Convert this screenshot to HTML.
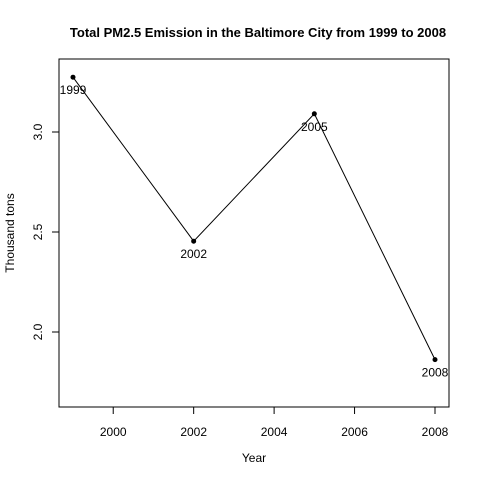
<!DOCTYPE html>
<html><head><meta charset="utf-8"><style>
body{margin:0;background:#fff;font-family:"Liberation Sans",Arial,sans-serif;}
</style></head><body>
<svg width="480" height="480" xmlns="http://www.w3.org/2000/svg" font-family="Liberation Sans, Arial, sans-serif">
<rect width="480" height="480" fill="#fff"/>
<text x="258" y="37" text-anchor="middle" font-size="13" font-weight="bold">Total PM2.5 Emission in the Baltimore City from 1999 to 2008</text>
<rect x="59" y="59" width="390" height="348" fill="none" stroke="#000"/>
<g id="xaxis"></g>
<g id="yaxis"></g>
<text x="254" y="462" text-anchor="middle" font-size="12">Year</text>
<text transform="translate(14,233) rotate(-90)" text-anchor="middle" font-size="12">Thousand tons</text>
<g id="series"></g>
</svg>
<script>
const years=[1999,2002,2005,2008];
const values=[3.274,2.454,3.091,1.862];
const xTicks=[2000,2002,2004,2006,2008];
const yTicks=[2.0,2.5,3.0];
const yTickLabels=["2.0","2.5","3.0"];
const NS="http://www.w3.org/2000/svg";
const X=v=>73+(v-1999)*(362/9);
const Y=v=>132-(v-3.0)*200;
function mk(t,a,p){const e=document.createElementNS(NS,t);for(const k in a)e.setAttribute(k,a[k]);p.appendChild(e);return e;}
const xa=document.getElementById('xaxis'),ya=document.getElementById('yaxis'),s=document.getElementById('series');
mk('line',{x1:X(xTicks[0]),x2:X(xTicks[xTicks.length-1]),y1:407,y2:407,stroke:'#000'},xa);
xTicks.forEach(t=>{
 const l=mk('line',{x1:X(t),x2:X(t),y1:407,y2:414,stroke:'#000'},xa);
 
 
 const tx=mk('text',{x:X(t),y:436,'text-anchor':'middle','font-size':12},xa);tx.textContent=t;
 
 
});
mk('line',{x1:59,x2:59,y1:Y(yTicks[0]),y2:Y(yTicks[yTicks.length-1]),stroke:'#000'},ya);
yTicks.forEach((t,i)=>{
 const l=mk('line',{x1:52,x2:59,y1:Y(t),y2:Y(t),stroke:'#000'},ya);
 
 
 const tx=mk('text',{transform:`translate(42,${Y(t)}) rotate(-90)`,'text-anchor':'middle','font-size':12},ya);tx.textContent=yTickLabels[i];
 
 
});
const pl=mk('polyline',{points:years.map((y,i)=>X(y)+','+Y(values[i])).join(' '),fill:'none',stroke:'#000'},s);


years.forEach((y,i)=>{
 const c=mk('circle',{cx:X(y),cy:Y(values[i]),r:2.5,fill:'#000'},s);
 
 
 const tx=mk('text',{x:X(y),y:Y(values[i])+17,'text-anchor':'middle','font-size':12},s);tx.textContent=y;
 
 
});
</script>
</body></html>
